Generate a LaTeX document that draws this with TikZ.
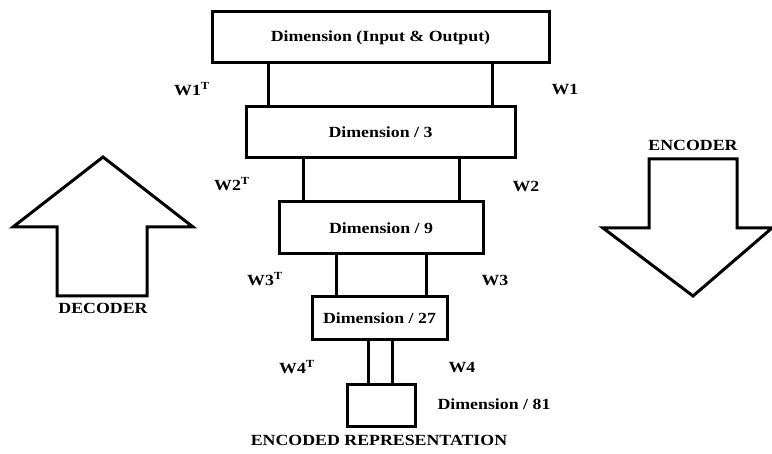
\documentclass[tikz,border=0pt]{standalone}
\usepackage{fontspec}
\setmainfont{Liberation Serif}[FakeStretch=1.15]
\usetikzlibrary{positioning}

\begin{document}
\begin{tikzpicture}[
    x=1pt, y=-1pt,
    layer/.style={rectangle, draw, line width=3pt, inner sep=0pt, font=\fontsize{15.5}{17}\selectfont\bfseries},
    weight/.style={font=\fontsize{15.5}{17}\selectfont\bfseries},
    link/.style={line width=3pt},
    bigarrow/.style={draw, line width=3pt, line join=miter},
    caption/.style={font=\fontsize{15.5}{17}\selectfont\bfseries}
]
\useasboundingbox (0,0) rectangle (772,454);

% Layers
\node[layer, minimum width=337pt, minimum height=51pt] (input) at (380.5,37.5) {Dimension (Input \& Output)};
\node[layer, minimum width=269pt, minimum height=51pt] (div3) at (380.5,132.5) {Dimension / 3};
\node[layer, minimum width=204pt, minimum height=52pt] (div9) at (381,228) {Dimension / 9};
\node[layer, minimum width=135pt, minimum height=43pt] (div27) at (379.5,318.5) {Dimension / 27};
\node[layer, minimum width=68pt, minimum height=42pt] (div81) at (381,406) {};

% Links
\draw[link] (input.south -| 268,0) -- (div3.north -| 268,0);
\draw[link] (input.south -| 492,0) -- (div3.north -| 492,0);
\draw[link] (div3.south -| 303,0) -- (div9.north -| 303,0);
\draw[link] (div3.south -| 459,0) -- (div9.north -| 459,0);
\draw[link] (div9.south -| 336,0) -- (div27.north -| 336,0);
\draw[link] (div9.south -| 426,0) -- (div27.north -| 426,0);
\draw[link] (div27.south -| 368,0) -- (div81.north -| 368,0);
\draw[link] (div27.south -| 392,0) -- (div81.north -| 392,0);

% Weights
\node[weight] (w1t) at (192,89) {W1\textsuperscript{T}};
\node[weight] (w1) at (565,90) {W1};
\node[weight] (w2t) at (232,184) {W2\textsuperscript{T}};
\node[weight] (w2) at (526,186) {W2};
\node[weight] (w3t) at (265,279) {W3\textsuperscript{T}};
\node[weight] (w3) at (495,280) {W3};
\node[weight] (w4t) at (297,367) {W4\textsuperscript{T}};
\node[weight] (w4) at (462,368) {W4};

\node[caption] (dim81) at (494,404) {Dimension / 81};
\node[caption] (code) at (379,440) {ENCODED REPRESENTATION};

% Decoder arrow
\draw[bigarrow] (103,157) -- (193,227) -- (147,227) -- (147,296) -- (57,296) -- (57,227) -- (13,227) -- cycle;
\node[caption] (decoder) at (103,308) {DECODER};

% Encoder arrow
\draw[bigarrow] (649,159) -- (737,159) -- (737,228) -- (772,228) -- (693,296) -- (603,228) -- (649,228) -- cycle;
\node[caption] (encoder) at (693,145) {ENCODER};

\end{tikzpicture}
\end{document}
